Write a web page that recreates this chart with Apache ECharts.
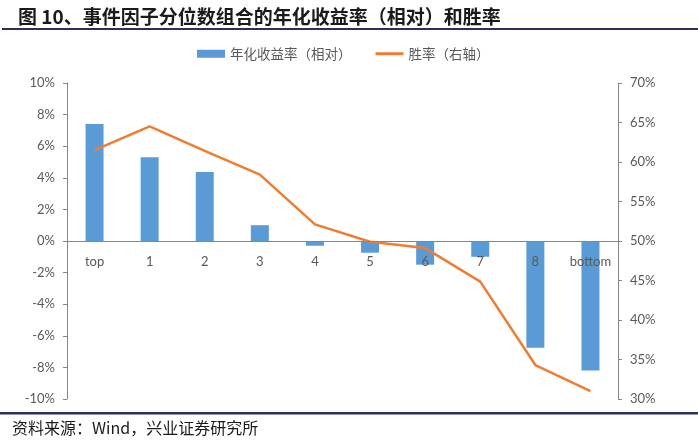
<!DOCTYPE html>
<html>
<head>
<meta charset="utf-8">
<script src="https://cdn.jsdelivr.net/npm/echarts@6/dist/echarts.min.js"></script>
<style>
html,body{margin:0;padding:0;background:#fff;}
#chart{width:698px;height:446px;}
</style>
</head>
<body>
<div id="chart"></div>
<script>
const categories = ['top', '1', '2', '3', '4', '5', '6', '7', '8', 'bottom'];
const annualReturn = [0.074, 0.053, 0.0437, 0.010, -0.003, -0.0074, -0.015, -0.010, -0.0675, -0.082];
const winRate = [0.615, 0.645, 0.614, 0.584, 0.521, 0.499, 0.491, 0.4485, 0.343, 0.310];
const leftTicks = { min: -0.10, max: 0.10, interval: 0.02 };
const rightTicks = { min: 0.30, max: 0.70, interval: 0.05 };

const W = 698, H = 446;
const grid = { left: 67, right: 80, top: 83, bottom: 47 };
const gridH = H - grid.top - grid.bottom;
// move the category axis up to the zero value of the left axis
const zeroOffset = -gridH * (0 - leftTicks.min) / (leftTicks.max - leftTicks.min);

const chart = echarts.init(document.getElementById('chart'), null, { renderer: 'canvas' });
const labelFont = 'Lato, "Noto Sans CJK SC", sans-serif';
const pct = v => Math.round(v * 100) + '%';

chart.setOption({
  animation: false,
  backgroundColor: '#fff',
  title: {
    text: '图 10、事件因子分位数组合的年化收益率（相对）和胜率',
    left: 13, top: 2,
    textStyle: { fontFamily: '"Noto Sans CJK SC", sans-serif', fontWeight: 'bold', fontSize: 19, color: '#1a1a1a' }
  },
  legend: {
    top: 42, left: 192,
    itemGap: 24,
    itemWidth: 28, itemHeight: 8,
    textStyle: { fontFamily: '"Noto Sans CJK SC", sans-serif', fontSize: 13.5, color: '#595959' },
    data: [
      { name: '年化收益率（相对）', icon: 'rect' },
      { name: '胜率（右轴）', icon: 'path://M0,0 L28,0 L28,3 L0,3 Z' }
    ]
  },
  grid: grid,
  xAxis: {
    type: 'category',
    data: categories,
    offset: zeroOffset,
    z: 10,
    axisLine: { onZero: false, lineStyle: { color: '#868686', width: 1 } },
    axisTick: { show: false },
    axisLabel: { margin: 14, fontFamily: labelFont, fontSize: 13, color: '#595959', hideOverlap: false }
  },
  yAxis: [
    {
      type: 'value', min: leftTicks.min, max: leftTicks.max, interval: leftTicks.interval,
      splitLine: { show: false },
      axisLine: { show: true, lineStyle: { color: '#868686' } },
      axisTick: { show: true, length: 4, lineStyle: { color: '#868686' } },
      axisLabel: { margin: 12, formatter: pct, fontFamily: labelFont, fontSize: 13, color: '#595959' }
    },
    {
      type: 'value', min: rightTicks.min, max: rightTicks.max, interval: rightTicks.interval,
      position: 'right',
      splitLine: { show: false },
      axisLine: { show: true, lineStyle: { color: '#868686' } },
      axisTick: { show: true, length: 4, lineStyle: { color: '#868686' } },
      axisLabel: { margin: 12, formatter: pct, fontFamily: labelFont, fontSize: 13, color: '#595959' }
    }
  ],
  series: [
    {
      name: '年化收益率（相对）', type: 'bar', yAxisIndex: 0,
      data: annualReturn, barWidth: 18,
      itemStyle: { color: '#5B9BD5' }
    },
    {
      name: '胜率（右轴）', type: 'line', yAxisIndex: 1,
      data: winRate, symbol: 'none', smooth: false,
      lineStyle: { color: '#ED7D31', width: 2.5 },
      itemStyle: { color: '#ED7D31' }
    }
  ],
  graphic: [
    { type: 'rect', shape: { x: 2, y: 28, width: 696, height: 2 }, style: { fill: '#2E2E5C' } },
    { type: 'rect', shape: { x: 0, y: 412, width: 698, height: 2.5 }, style: { fill: '#2E2E5C' } },
    { type: 'text', left: 12, top: 420,
      style: { text: '资料来源：Wind，兴业证券研究所', fontFamily: '"Noto Sans CJK SC", serif', fontSize: 16, fill: '#1a1a1a' } }
  ]
});
</script>
</body>
</html>
